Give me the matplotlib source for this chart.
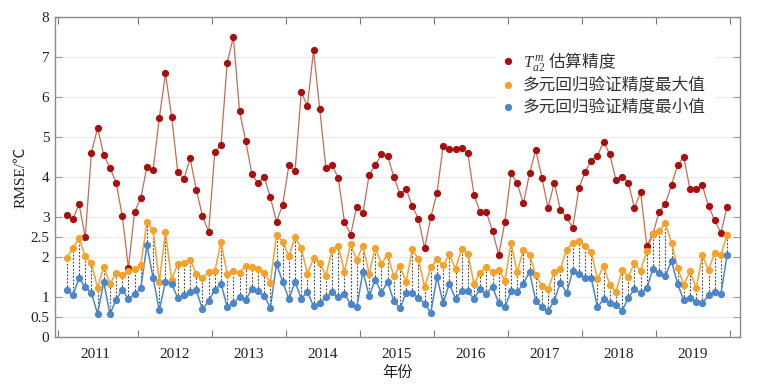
import numpy as np
import matplotlib
matplotlib.use("Agg")
import matplotlib.pyplot as plt

years = ["2011", "2012", "2013", "2014", "2015", "2016", "2017", "2018", "2019"]

ta2_rmse = [3.05, 2.95, 3.32, 2.50, 4.60, 5.23, 4.55, 4.23, 3.86, 3.03, 1.73, 3.13,
            3.47, 4.25, 4.18, 5.47, 6.59, 5.51, 4.12, 3.95, 4.47, 3.68, 3.02, 2.63,
            4.63, 4.80, 6.85, 7.50, 5.65, 4.90, 4.08, 3.84, 4.01, 3.49, 2.88, 3.31,
            4.29, 4.15, 6.12, 5.78, 7.17, 5.69, 4.23, 4.29, 3.98, 2.88, 2.56, 3.26,
            3.10, 4.05, 4.29, 4.57, 4.53, 4.01, 3.57, 3.70, 3.27, 2.95, 2.22, 3.00,
            3.60, 4.78, 4.71, 4.69, 4.73, 4.59, 3.55, 3.12, 3.12, 2.65, 2.05, 2.87,
            4.10, 3.84, 3.34, 4.09, 4.68, 3.97, 3.23, 3.86, 3.18, 2.99, 2.73, 3.72,
            4.13, 4.40, 4.53, 4.88, 4.57, 3.93, 4.00, 3.86, 3.23, 3.62, 2.28, 2.58,
            3.13, 3.33, 3.80, 4.30, 4.49, 3.69, 3.69, 3.79, 3.27, 2.92, 2.60, 3.25]

max_rmse = [1.97, 2.22, 2.47, 2.02, 1.85, 1.23, 1.76, 1.33, 1.60, 1.55, 1.65, 1.70,
            1.79, 2.88, 2.67, 1.38, 2.62, 1.43, 1.83, 1.86, 1.93, 1.58, 1.47, 1.63,
            1.65, 2.37, 1.58, 1.65, 1.61, 1.78, 1.75, 1.71, 1.61, 1.36, 2.55, 2.38,
            2.02, 2.50, 2.23, 1.58, 1.97, 1.86, 1.53, 2.18, 2.28, 1.63, 2.32, 1.93,
            2.28, 1.58, 2.23, 1.83, 2.06, 1.52, 1.78, 1.37, 2.19, 1.94, 1.26, 1.74,
            1.94, 1.79, 2.07, 1.71, 2.20, 2.08, 1.33, 1.61, 1.74, 1.63, 1.68, 1.41,
            2.34, 1.62, 2.18, 2.06, 1.54, 1.27, 1.20, 1.63, 1.70, 2.18, 2.35, 2.41,
            2.27, 2.13, 1.45, 1.77, 1.31, 1.12, 1.68, 1.50, 1.86, 1.64, 2.16, 2.58,
            2.65, 2.85, 2.36, 1.72, 1.31, 1.64, 1.22, 2.04, 1.67, 2.11, 2.04, 2.56]

min_rmse = [1.17, 1.05, 1.47, 1.25, 1.10, 0.58, 1.38, 0.57, 0.93, 1.18, 0.95, 1.08,
            1.22, 2.30, 1.47, 0.67, 1.38, 1.33, 0.97, 1.05, 1.13, 1.17, 0.69, 0.90,
            1.18, 1.33, 0.76, 0.85, 1.00, 0.92, 1.20, 1.14, 1.03, 0.73, 1.83, 1.38,
            0.95, 1.38, 0.96, 1.13, 0.77, 0.85, 1.00, 1.12, 0.99, 1.08, 0.82, 0.74,
            1.63, 1.03, 1.43, 1.11, 1.38, 0.90, 0.72, 1.10, 1.09, 0.98, 0.83, 0.61,
            1.50, 0.85, 1.33, 0.95, 1.15, 1.14, 0.96, 1.20, 1.07, 1.26, 0.84, 0.75,
            1.14, 1.13, 1.33, 1.63, 0.91, 0.74, 0.64, 0.91, 1.36, 1.10, 1.65, 1.57,
            1.48, 1.47, 0.75, 0.94, 0.85, 0.80, 0.66, 0.97, 1.20, 1.10, 1.22, 1.71,
            1.61, 1.53, 1.90, 1.32, 0.92, 0.98, 0.87, 0.84, 1.05, 1.12, 1.07, 2.05]

y_ticks = [0, 0.5, 1, 2, 2.5, 3, 4, 5, 6, 7, 8]
y_tick_labels = ["0", "0.5", "1", "2", "2.5", "3", "4", "5", "6", "7", "8"]

legend_labels = [r"$T_{a2}^{\,m}$ 估算精度", "多元回归验证精度最大值", "多元回归验证精度最小值"]

serif = ["Liberation Serif", "DejaVu Serif"]
plt.rcParams["font.family"] = ["Liberation Serif", "Noto Sans CJK SC", "DejaVu Sans"]
plt.rcParams["mathtext.fontset"] = "custom"
plt.rcParams["mathtext.rm"] = "Liberation Serif"
plt.rcParams["mathtext.it"] = "Liberation Serif:italic"

fig = plt.figure(figsize=(7.57, 3.89), dpi=100)
ax = fig.add_axes([55 / 757, 1 - 337 / 389, 685 / 757, 320 / 389])

n = len(ta2_rmse)
x = np.arange(n)

red_line = "#c96a55"
red_mk = "#a80f0f"
orange = "#f5a12a"
blue = "#4a86c9"

ax.vlines(x, min_rmse, max_rmse, colors="#444444", linestyles=(0, (1.6, 1.6)), linewidth=0.8, zorder=1)
ax.plot(x, max_rmse, color=orange, lw=1.1, zorder=2)
ax.plot(x, min_rmse, color=blue, lw=1.1, zorder=2)
ax.plot(x, ta2_rmse, color=red_line, lw=0.9, zorder=2)
h1, = ax.plot(x, ta2_rmse, ls="none", marker="o", ms=4.2, color=red_mk, zorder=3)
h2, = ax.plot(x, max_rmse, ls="none", marker="o", ms=4.2, color=orange, zorder=3)
h3, = ax.plot(x, min_rmse, ls="none", marker="o", ms=4.2, color=blue, zorder=3)

ax.set_xlim(-1.9, 109.1)
ax.set_ylim(0, 8)
ax.set_yticks(y_ticks)
ax.set_yticklabels(y_tick_labels, fontfamily=serif, fontsize=11, color="#222222")

major_x = [-1.4] + [11.5 + 12 * k for k in range(9)]
ax.set_xticks(major_x)
ax.set_xticklabels([])
label_pos = [4.7] + [5.5 + 12 * k for k in range(1, 9)]
ax.set_xticks(label_pos, minor=True)
ax.set_xticklabels(years, minor=True, fontfamily=serif, fontsize=11, color="#222222")
ax.tick_params(axis="x", which="minor", length=0, pad=8)
ax.tick_params(axis="x", which="major", direction="in", length=5, top=True, color="#777777")
ax.tick_params(axis="y", which="major", direction="in", length=5, right=True, color="#999999", pad=4)

ax.grid(axis="y", color="#ececec", lw=0.9, zorder=0)
ax.set_axisbelow(True)
for s in ax.spines.values():
    s.set_color("#8a8a8a")
    s.set_linewidth(1.0)

ax.set_xlabel("年份", fontsize=11, family=["Noto Sans CJK SC"], color="#222222", labelpad=2)
ax.set_ylabel("RMSE/℃", fontsize=11, family=["Liberation Serif", "Noto Sans CJK SC"], color="#222222", labelpad=2)

leg = ax.legend([h1, h2, h3], legend_labels, loc="upper left", bbox_to_anchor=(0.63, 0.95),
                frameon=True, fancybox=False, edgecolor="white", facecolor="white", framealpha=1,
                handlelength=0.6, handletextpad=0.6, labelspacing=0.3, borderpad=0.5,
                prop={"family": ["Noto Sans CJK SC", "Liberation Serif"], "size": 12})
for t in leg.get_texts():
    t.set_color("#333333")

fig.savefig("out.png", dpi=100)
